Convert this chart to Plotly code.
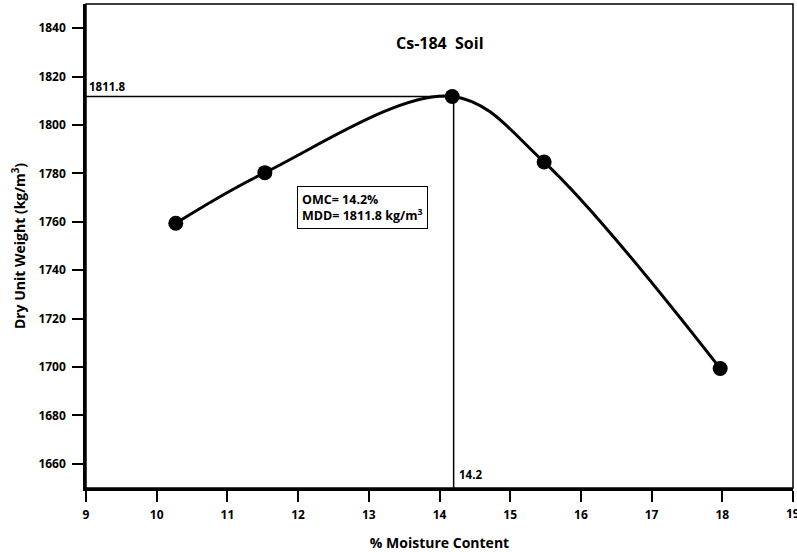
import plotly.graph_objects as go

# Compaction test results
moisture = [10.27, 11.53, 14.18, 15.48, 17.97]
dry_density = [1759.4, 1780.3, 1811.8, 1784.7, 1699.4]
omc = 14.2
mdd = 1811.8
x_ticks = list(range(9, 20))
y_ticks = list(range(1660, 1841, 20))

FONT = "Open Sans"

fig = go.Figure()

# Guide lines to the optimum
fig.add_trace(go.Scatter(x=[9, omc], y=[mdd, mdd], mode="lines",
                         line=dict(color="black", width=1.5), hoverinfo="skip"))
fig.add_trace(go.Scatter(x=[omc, omc], y=[mdd, 1650], mode="lines",
                         line=dict(color="black", width=1.5), hoverinfo="skip"))

# Compaction curve
fig.add_trace(go.Scatter(x=moisture, y=dry_density, mode="lines",
                         line=dict(color="black", width=3, shape="spline", smoothing=1.0)))
fig.add_trace(go.Scatter(x=moisture, y=dry_density, mode="markers",
                         marker=dict(color="black", size=15)))

fig.add_annotation(x=0.5, xref="paper", y=1834, yref="y", text="<b>Cs-184  Soil</b>",
                   showarrow=False, font=dict(family=FONT, size=16, color="black"))
fig.add_annotation(x=9.02, y=mdd, text="<b>1811.8</b>", xanchor="left", yanchor="bottom",
                   showarrow=False, font=dict(family=FONT, size=11.5, color="black"))
fig.add_annotation(x=omc + 0.05, y=1650, text="<b>14.2</b>", xanchor="left", yanchor="bottom",
                   yshift=4, showarrow=False, font=dict(family=FONT, size=11.5, color="black"))
fig.add_annotation(x=11.98, y=1766, text="<b>OMC= 14.2%<br>MDD= 1811.8 kg/m<sup>3</sup></b>",
                   xanchor="left", yanchor="middle", align="left", showarrow=False,
                   bordercolor="black", borderwidth=1, borderpad=4, bgcolor="white",
                   font=dict(family=FONT, size=12.5, color="black"))
# Last x tick label sits on the page edge
fig.add_annotation(x=19, y=0, yref="paper", text="<b>19</b>", xanchor="center", yanchor="top",
                   yshift=-15, showarrow=False, font=dict(family=FONT, size=12, color="black"))

# Thin frame around the plotting area
fig.add_shape(type="rect", xref="paper", yref="paper", x0=0, y0=0, x1=1, y1=1,
              line=dict(color="black", width=1.5))

fig.update_xaxes(range=[9, 19], tickvals=x_ticks, ticktext=[f"<b>{v}</b>" for v in x_ticks[:-1]] + [""],
                 ticks="outside", ticklen=11, tickwidth=2, ticklabelstandoff=3, automargin=False,
                 tickcolor="black", showline=True, linecolor="black", linewidth=2.5,
                 showgrid=False, zeroline=False,
                 tickfont=dict(family=FONT, size=12, color="black"),
                 title=dict(text="<b>% Moisture Content</b>", standoff=18,
                            font=dict(family=FONT, size=14, color="black")))
fig.update_yaxes(range=[1650, 1850], tickvals=y_ticks, ticks="outside", ticklen=11, tickwidth=2,
                 ticklabelstandoff=4, automargin=False,
                 tickcolor="black", showline=True, linecolor="black", linewidth=2.5,
                 showgrid=False, zeroline=False,
                 tickfont=dict(family=FONT, size=12, color="black", weight="bold"),
                 title=dict(text="<b>Dry Unit Weight (kg/m<sup>3</sup>)</b>", standoff=10,
                            font=dict(family=FONT, size=14, color="black")))

fig.update_layout(width=797, height=552, showlegend=False,
                  paper_bgcolor="white", plot_bgcolor="white",
                  margin=dict(l=86, r=4, t=4, b=64))

fig.write_html("out.html")
